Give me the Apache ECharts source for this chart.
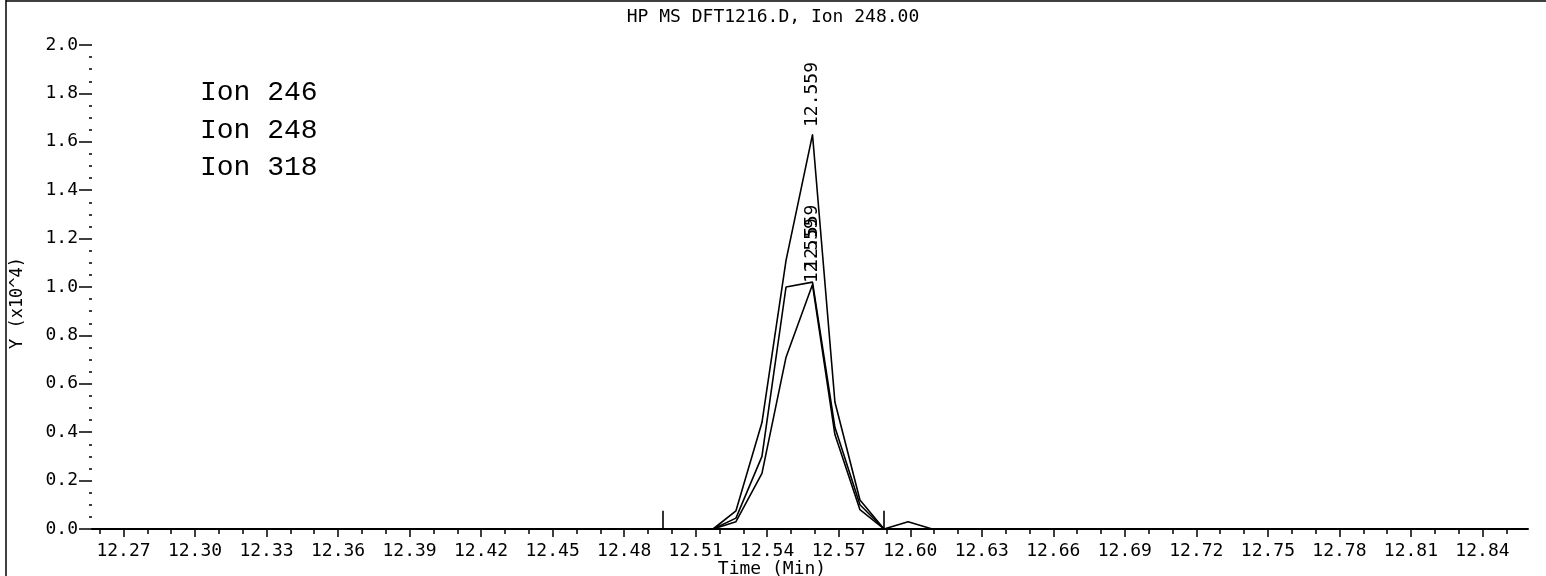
<!DOCTYPE html>
<html><head><meta charset="utf-8">
<script src="https://cdn.jsdelivr.net/npm/echarts@6/dist/echarts.min.js"></script>
<style>html,body{margin:0;padding:0;background:#fff}#c{width:1546px;height:576px}</style>
</head><body><div id="c"></div>
<script>
// ---- data ----
const times  = [12.5173, 12.5269, 12.5378, 12.5479, 12.559, 12.5684, 12.5789, 12.589, 12.5991, 12.6092];
const ion246 = [0, 0.075, 0.44, 1.11, 1.63, 0.525, 0.12, 0, 0.03, 0];
const ion248 = [0, 0.045, 0.30, 1.00, 1.02, 0.42, 0.10, 0, 0, 0];
const ion318 = [0, 0.03, 0.23, 0.71, 1.01, 0.39, 0.08, 0, 0, 0];
const seriesNames = ['Ion 246', 'Ion 248', 'Ion 318'];
const xLabelValues = [12.27, 12.30, 12.33, 12.36, 12.39, 12.42, 12.45, 12.48, 12.51, 12.54,
                      12.57, 12.60, 12.63, 12.66, 12.69, 12.72, 12.75, 12.78, 12.81, 12.84];
const markerTimes = [12.496, 12.589];
const markerHeight = 0.075;
const titleText = 'HP MS DFT1216.D, Ion 248.00';

// ---- chart ----
const xTickValues = [];
for (let k = 1226; k <= 1285; k++) xTickValues.push(k / 100);

const MONO = '"DejaVu Sans Mono", "Liberation Mono", monospace';
const XMIN = 12.2568, XMAX = 12.8591;

function buildData(vals, dist) {
  const peak = vals.indexOf(Math.max.apply(null, vals));
  return times.map((t, i) => i === peak ? {
    value: [t, vals[i]],
    symbol: 'circle', symbolSize: 1,
    label: {
      show: true, position: 'top', distance: dist, rotate: 90,
      align: 'left', verticalAlign: 'middle',
      formatter: p => p.value[0].toFixed(3),
      fontFamily: MONO, fontSize: 18, color: '#000'
    }
  } : { value: [t, vals[i]], symbol: 'none' });
}

const lineStyle = { color: '#000', width: 1.6 };
const labelDist = [7, 12, 1];
const allVals = [ion246, ion248, ion318];

const series = seriesNames.map((name, si) => ({
  name, type: 'line', symbol: 'none', showSymbol: true,
  color: '#000', itemStyle: { color: '#000' }, lineStyle,
  data: buildData(allVals[si], labelDist[si]),
  labelLayout: { hideOverlap: false },
  emphasis: { disabled: true }, animation: false,
  markLine: si === 0 ? {
    symbol: 'none', silent: true, animation: false,
    label: { show: false },
    lineStyle: { color: '#000', width: 1.6, type: 'solid' },
    data: markerTimes.map(t => [{ coord: [t, 0] }, { coord: [t, markerHeight] }])
  } : undefined
}));

const chart = echarts.init(document.getElementById('c'), null, { renderer: 'canvas' });
chart.setOption({
  animation: false,
  backgroundColor: '#fff',
  title: {
    text: titleText, left: 'center', top: 3,
    textStyle: { fontFamily: MONO, fontSize: 18, fontWeight: 'normal', color: '#000' }
  },
  legend: {
    data: seriesNames, orient: 'vertical', left: 190, top: 73,
    icon: 'none', itemWidth: 0, itemHeight: 14, itemGap: 7.5,
    selectedMode: false,
    textStyle: { fontFamily: '"Liberation Mono", "DejaVu Sans Mono", monospace', fontSize: 28, color: '#000', lineHeight: 30 }
  },
  grid: { left: 92, right: 18, top: 45, bottom: 47, containLabel: false, outerBoundsMode: 'none' },
  xAxis: [{
    type: 'value', min: XMIN, max: XMAX,
    name: 'Time (Min)', nameLocation: 'middle', nameGap: 31, nameMoveOverlap: false,
    nameTextStyle: { fontFamily: MONO, fontSize: 18, color: '#000', padding: [0, 76, 0, 0] },
    axisLine: { show: true, onZero: false, lineStyle: { color: '#000', width: 2 } },
    axisTick: { show: true, customValues: xTickValues, length: 5, lineStyle: { color: '#000', width: 1.5 } },
    axisLabel: { show: true, customValues: xLabelValues, margin: 13, formatter: v => v.toFixed(2),
      fontFamily: MONO, fontSize: 18, color: '#000' },
    splitLine: { show: false }
  }, {
    type: 'value', min: XMIN, max: XMAX, position: 'bottom', gridIndex: 0,
    axisLine: { show: false },
    axisTick: { show: true, customValues: xLabelValues, length: 8, lineStyle: { color: '#000', width: 1.5 } },
    axisLabel: { show: false },
    splitLine: { show: false }
  }],
  yAxis: {
    type: 'value', min: 0, max: 2, interval: 0.2,
    name: 'Y (x10^4)', nameLocation: 'middle', nameGap: 66, nameRotate: 90,
    nameTextStyle: { fontFamily: MONO, fontSize: 17, color: '#000', padding: [0, 32, 0, 0] },
    axisLine: { show: false },
    axisTick: { show: true, length: 13, lineStyle: { color: '#000', width: 1.5 } },
    minorTick: { show: true, splitNumber: 4, length: 3, lineStyle: { color: '#000', width: 1.5 } },
    axisLabel: { margin: 14, formatter: v => v.toFixed(1), fontFamily: MONO, fontSize: 18, color: '#000' },
    splitLine: { show: false }, minorSplitLine: { show: false }
  },
  graphic: [
    { type: 'line', silent: true, shape: { x1: 6, y1: 0, x2: 6, y2: 576 }, style: { stroke: '#000', lineWidth: 1.5 } },
    { type: 'line', silent: true, shape: { x1: 6, y1: 1, x2: 1546, y2: 1 }, style: { stroke: '#000', lineWidth: 1.5 } }
  ],
  series
});
</script></body></html>
